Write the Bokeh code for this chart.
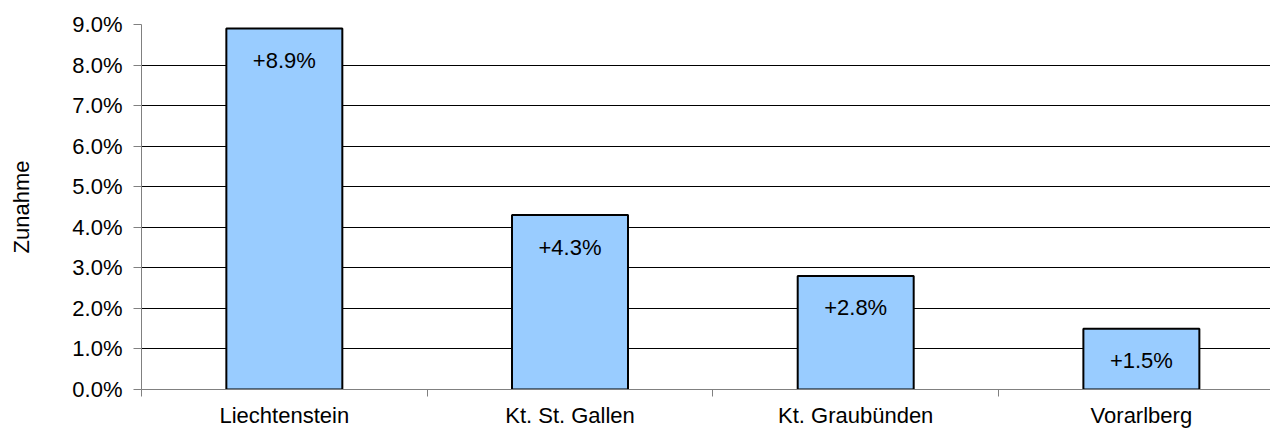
from bokeh.plotting import figure
from bokeh.models import (Range1d, FixedTicker, NumeralTickFormatter, ColumnDataSource,
                          LabelSet)
from bokeh.core.properties import value
from bokeh.embed import file_html
from bokeh.resources import INLINE
import numpy as np

categories = ["Liechtenstein", "Kt. St. Gallen", "Kt. Graubünden", "Vorarlberg"]
values = [0.089, 0.043, 0.028, 0.015]
y_ticks = [0.0, 0.01, 0.02, 0.03, 0.04, 0.05, 0.06, 0.07, 0.08, 0.09]
y_label = "Zunahme"

FONT = "Liberation Sans"
FS = "22px"

xs = np.arange(len(categories)) + 0.5
labels = [f"+{v*100:.1f}%" for v in values]
src = ColumnDataSource(dict(x=xs, top=values, label=labels))

p = figure(width=1270, height=430, output_backend="svg", toolbar_location=None,
           x_range=Range1d(0, 3.952), y_range=Range1d(0, 0.09),
           min_border_left=141, min_border_right=0, min_border_top=24,
           min_border_bottom=37)
p.outline_line_color = None
p.background_fill_color = "white"

p.vbar(x="x", top="top", width=0.406, bottom=0, source=src,
       fill_color="#99CCFF", line_color="black", line_width=2)

ls = LabelSet(x="x", y="top", text="label", source=src, y_offset=-32,
              text_align="center", text_baseline="middle",
              text_font=value(FONT), text_font_size=value(FS), text_color="black")
p.add_layout(ls)

# y axis
p.yaxis.ticker = FixedTicker(ticks=y_ticks)
p.yaxis.formatter = NumeralTickFormatter(format="0.0%")
p.yaxis.axis_line_color = "#808080"
p.yaxis.major_tick_line_color = "#808080"
p.yaxis.major_tick_out = 8
p.yaxis.major_tick_in = 0
p.yaxis.minor_tick_line_color = None
p.yaxis.major_label_standoff = 11
p.yaxis.major_label_text_font = FONT
p.yaxis.major_label_text_font_size = FS
p.yaxis.major_label_text_color = "black"
p.yaxis.axis_label = y_label
p.yaxis.axis_label_text_font = FONT
p.yaxis.axis_label_text_font_size = FS
p.yaxis.axis_label_text_font_style = "normal"
p.yaxis.axis_label_text_color = "black"
p.yaxis.axis_label_standoff = 35

# x axis
p.xaxis.ticker = FixedTicker(ticks=list(xs), minor_ticks=list(range(len(categories) + 1)))
p.xaxis.major_label_overrides = {float(x): c for x, c in zip(xs, categories)}
p.xaxis.axis_line_color = "#808080"
p.xaxis.major_tick_line_color = None
p.xaxis.major_tick_out = 0
p.xaxis.major_tick_in = 0
p.xaxis.minor_tick_line_color = "#808080"
p.xaxis.minor_tick_out = 7
p.xaxis.minor_tick_in = 0
p.xaxis.major_label_standoff = 6
p.xaxis.major_label_text_font = FONT
p.xaxis.major_label_text_font_size = FS
p.xaxis.major_label_text_color = "black"

# grid
p.xgrid.grid_line_color = None
p.ygrid.ticker = FixedTicker(ticks=y_ticks[1:-1])
p.ygrid.grid_line_color = "black"
p.ygrid.grid_line_width = 1

open("out.html", "w").write(file_html(p, INLINE))
